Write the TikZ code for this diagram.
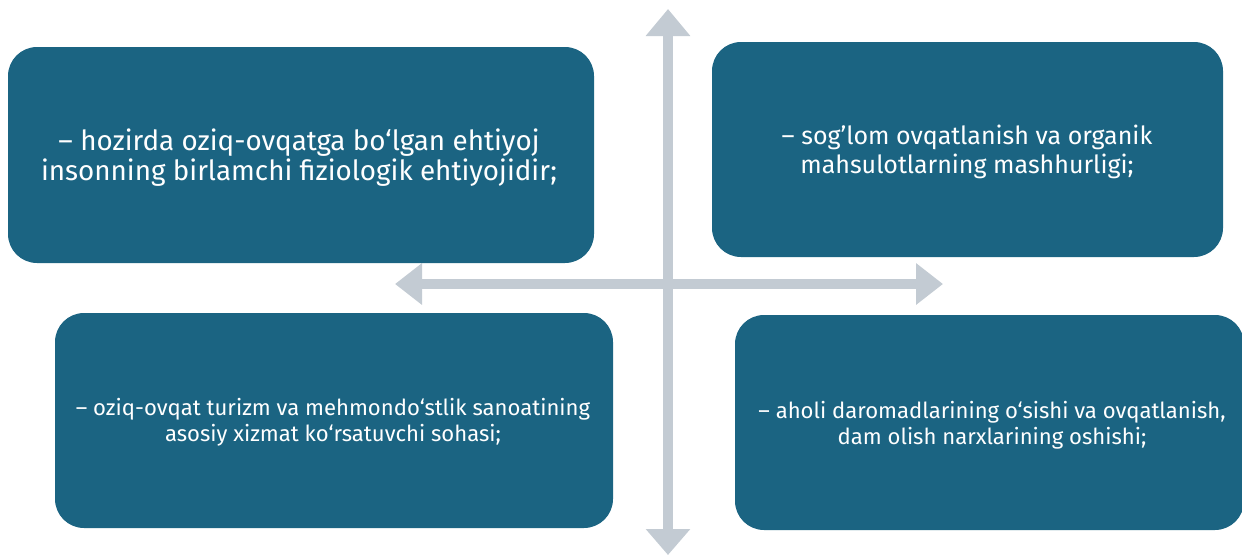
\documentclass[tikz,border=0pt]{standalone}
\usepackage{fontspec}
\setmainfont{Fira Sans}
\usetikzlibrary{arrows.meta}
\definecolor{boxblue}{HTML}{1B6482}
\definecolor{axisgray}{HTML}{C3CBD3}
\tikzset{
  qbox/.style={draw=none, fill=boxblue, rounded corners=29pt, inner sep=0pt},
  qtext/.style={text=white, align=center, inner sep=0pt},
  bigfont/.style={font={\fontsize{27.8pt}{30pt}\selectfont}},
  midfont/.style={font={\fontsize{25pt}{29pt}\selectfont}},
  smallfont/.style={font={\fontsize{22.1pt}{26pt}\selectfont}},
  axis/.style={draw=axisgray, line width=10pt},
}
\begin{document}
\begin{tikzpicture}[x=1pt, y=-1pt]
\useasboundingbox (0,0) rectangle (1242,555);
% axes
\coordinate (top) at (668,9);
\coordinate (bottom) at (668,555);
\coordinate (left) at (395,284);
\coordinate (right) at (943,284);
\draw[axis, {Triangle[width=43pt,length=27pt]}-{Triangle[width=43pt,length=26pt]}] (top) -- (bottom);
\draw[axis, {Triangle[width=40pt,length=27pt]}-{Triangle[width=40pt,length=27pt]}] (left) -- (right);
% boxes
\node[qbox, minimum width=586pt, minimum height=216pt] (b1) at (301,155) {};
\node[qbox, minimum width=511pt, minimum height=215pt] (b2) at (967.5,149.5) {};
\node[qbox, minimum width=558pt, minimum height=215pt] (b3) at (334,420.5) {};
\node[qbox, minimum width=509pt, minimum height=215pt] (b4) at (989.5,422.5) {};
% texts
\node[qtext, bigfont] (t1) at (299,158) {– hozirda oziq-ovqatga bo‘lgan ehtiyoj\\insonning birlamchi fiziologik ehtiyojidir;};
\node[qtext, midfont] (t2) at (967,152) {– sog’lom ovqatlanish va organik\\mahsulotlarning mashhurligi;};
\node[qtext, smallfont] (t3) at (333,422) {– oziq-ovqat turizm va mehmondo‘stlik sanoatining\\asosiy xizmat ko‘rsatuvchi sohasi;};
\node[qtext, smallfont] (t4) at (992,425) {– aholi daromadlarining o‘sishi va ovqatlanish,\\dam olish narxlarining oshishi;};
\end{tikzpicture}
\end{document}
